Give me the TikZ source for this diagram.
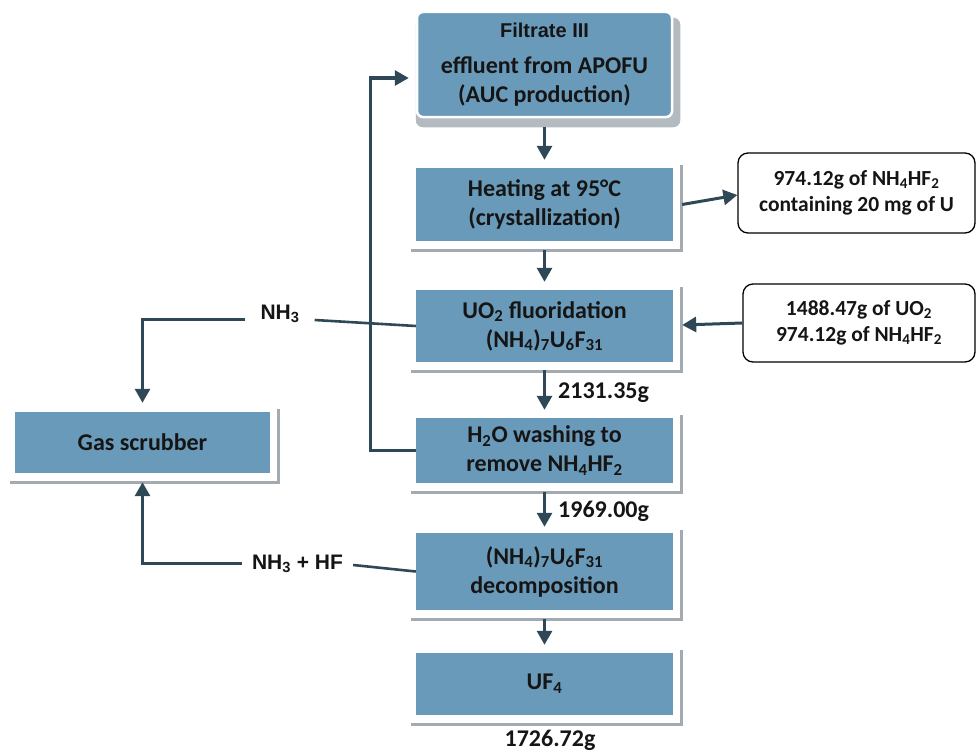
\documentclass[tikz,border=0pt]{standalone}
\usepackage{fontspec}
\setmainfont{Carlito}
\newfontfamily\arialfont{Liberation Sans}
\usetikzlibrary{arrows.meta,backgrounds}
\definecolor{boxblue}{HTML}{6A9AB9}
\definecolor{linecol}{HTML}{2F4857}
\definecolor{shadowgrey}{HTML}{A3ABB0}
\definecolor{softgrey}{HTML}{B4BBC0}
\definecolor{txt}{HTML}{151515}
\tikzset{
  procbox/.style={fill=boxblue, draw=none, minimum width=257pt, inner sep=0pt,
    align=center, text=txt, font=\fontsize{24}{29}\selectfont\bfseries},
  sidebox/.style={fill=white, draw=black, line width=1.3pt, rounded corners=10pt,
    inner sep=0pt, align=center, text=txt, font=\fontsize{21.5}{26}\selectfont\bfseries},
  masslabel/.style={inner sep=0pt, text=txt, font=\fontsize{24}{29}\selectfont\bfseries},
  gaslabel/.style={inner sep=0pt, text=txt, font=\arialfont\fontsize{21}{25}\selectfont\bfseries},
  arr/.style={draw=linecol, line width=3pt, -{Triangle[width=15pt,length=14pt]}},
  conn/.style={draw=linecol, line width=2.6pt},
  shadowline/.style={draw=shadowgrey, line width=3pt}
}
\begin{document}
\begin{tikzpicture}[x=1pt,y=-1pt]
\useasboundingbox (0,0) rectangle (977,752);

% main column
\node[procbox, minimum width=255pt, minimum height=105pt, rounded corners=6pt,
      draw=white, line width=2.5pt] (b1) at (544.5,64.5)
  {{\arialfont\fontsize{20}{22}\selectfont\bfseries Filtrate III}\\[7pt]
   effluent from APOFU\\(AUC production)};
\node[procbox, minimum height=73pt] (b2) at (544.5,204.5)
  {Heating at 95°C\\(crystallization)};
\node[procbox, minimum height=72pt] (b3) at (544.5,326)
  {UO\textsubscript{2} fluoridation\\(NH\textsubscript{4})\textsubscript{7}U\textsubscript{6}F\textsubscript{31}};
\node[procbox, minimum height=65pt] (b4) at (544.5,450.5)
  {H\textsubscript{2}O washing to\\remove NH\textsubscript{4}HF\textsubscript{2}};
\node[procbox, minimum height=77pt] (b5) at (544.5,571.5)
  {(NH\textsubscript{4})\textsubscript{7}U\textsubscript{6}F\textsubscript{31}\\decomposition};
\node[procbox, minimum height=62pt] (b6) at (544.5,684)
  {UF\textsubscript{4}};

% gas scrubber
\node[procbox, minimum width=255pt, minimum height=61pt] (gs) at (142.5,442.5)
  {Gas scrubber};

% side boxes
\node[sidebox, minimum width=237pt, minimum height=80pt] (r1) at (856.5,193)
  {974.12g of NH\textsubscript{4}HF\textsubscript{2}\\containing 20 mg of U};
\node[sidebox, minimum width=232pt, minimum height=78pt] (r2) at (859,323)
  {1488.47g of UO\textsubscript{2}\\974.12g of NH\textsubscript{4}HF\textsubscript{2}};

% mass labels
\node[masslabel, anchor=base west] (m1) at (558,398) {2131.35g};
\node[masslabel, anchor=base west] (m2) at (558,517) {1969.00g};
\node[masslabel, anchor=base] (m3) at (550,746) {1726.72g};

% gas labels
\node[gaslabel, anchor=base] (nh3) at (280,319) {NH\textsubscript{3}};
\node[gaslabel, anchor=base] (nhf) at (297.5,569) {NH\textsubscript{3} + HF};

% shadows
\begin{scope}[on background layer]
\fill[white] (0,0) rectangle (977,752);
\fill[softgrey, rounded corners=7pt]
  ([shift={(0pt,-7pt)}]b1.north west) rectangle ([shift={(7pt,-9pt)}]b1.south east);
\foreach \n in {b2,b3,b4,b5,b6,gs}{
  \draw[shadowline] ([shift={(-5pt,-9pt)}]\n.south west) -- ([shift={(8.5pt,-9pt)}]\n.south east)
    -- ([shift={(8.5pt,3pt)}]\n.north east);
}
\end{scope}

% vertical flow arrows
\draw[arr] ([yshift=-9pt]b1.south) -- ([yshift=8pt]b2.north);
\draw[arr] ([yshift=-9pt]b2.south) -- ([yshift=8pt]b3.north);
\draw[arr] ([yshift=-8pt]b3.south) -- ([yshift=8pt]b4.north);
\draw[arr] ([yshift=-9pt]b4.south) -- ([yshift=6pt]b5.north);
\draw[arr] ([yshift=-9pt]b5.south) -- ([yshift=8pt]b6.north);

% side arrows
\draw[arr] ([xshift=9pt]b2.east) -- ([yshift=-2pt]r1.west);
\draw[arr] (r2.west) -- ([xshift=9pt,yshift=1pt]b3.east);

% feedback loop
\coordinate (fbBot) at (370,450.5);
\coordinate (fbTop) at (370,78);
\draw[arr] (b4.west) -- (fbBot) -- (fbTop) -- ([xshift=-7pt]b1.west |- fbTop);

% gas lines
\draw[arr] ([xshift=-15pt]nh3.base west) -| ([yshift=9pt]gs.north);
\draw[conn] ([xshift=15pt,yshift=-1pt]nh3.base east) -- (b3.west);
\draw[arr] ([xshift=-10pt,yshift=6pt]nhf.base west) -| ([yshift=-9pt]gs.south);
\draw[conn] ([xshift=10pt,yshift=4pt]nhf.base east) -- (b5.west);
\end{tikzpicture}
\end{document}
